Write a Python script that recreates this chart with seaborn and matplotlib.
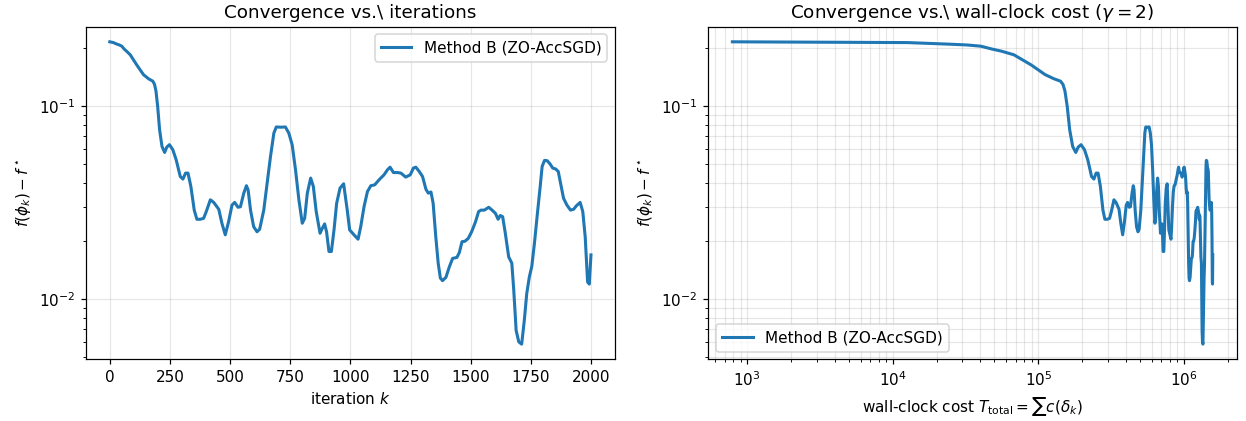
import numpy as np
import pandas as pd
import matplotlib
matplotlib.use("Agg")
import matplotlib.pyplot as plt
import seaborn as sns

# Optimality gap of ZO-AccSGD, sampled along the run
iterations = [
    0, 15, 30, 40, 50, 60, 70, 85, 112, 140, 161, 179, 186, 192, 199, 207,
    217, 228, 237, 248, 262, 276, 293, 304, 315, 325, 337, 351, 362, 376,
    390, 401, 418, 432, 453, 466, 480, 494, 508, 519, 533, 543, 557, 568,
    575, 585, 598, 612, 623, 640, 654, 668, 682, 692, 710, 730, 744, 758,
    772, 786, 800, 810, 821, 835, 846, 858, 874, 883, 893, 901, 911, 921,
    932, 943, 957, 972, 987, 997, 1015, 1032, 1043, 1057, 1071, 1085, 1101,
    1119, 1140, 1154, 1165, 1179, 1196, 1210, 1230, 1249, 1262, 1272, 1286,
    1300, 1314, 1324, 1335, 1344, 1355, 1365, 1374, 1383, 1397, 1411, 1425,
    1443, 1453, 1464, 1476, 1490, 1504, 1520, 1533, 1543, 1557, 1575, 1589,
    1603, 1614, 1623, 1633, 1644, 1658, 1671, 1679, 1689, 1700, 1712, 1723,
    1733, 1744, 1754, 1765, 1776, 1789, 1797, 1807, 1818, 1830, 1841, 1853,
    1864, 1876, 1886, 1900, 1915, 1928, 1939, 1955, 1966, 1976, 1986, 1993,
    2000,
]
gap = [
    0.216, 0.214, 0.210, 0.208, 0.205, 0.198, 0.193, 0.185, 0.164, 0.146,
    0.139, 0.135, 0.130, 0.120, 0.100, 0.0757, 0.062, 0.0577, 0.0615, 0.0633,
    0.0596, 0.0528, 0.0433, 0.042, 0.0451, 0.0451, 0.0385, 0.029, 0.026,
    0.026, 0.0263, 0.0285, 0.0328, 0.0318, 0.0293, 0.0248, 0.0216, 0.0253,
    0.0308, 0.0318, 0.030, 0.0302, 0.0355, 0.0388, 0.0369, 0.029, 0.0238,
    0.0224, 0.0231, 0.029, 0.040, 0.055, 0.0727, 0.0782, 0.078, 0.0782,
    0.0727, 0.0633, 0.0469, 0.0328, 0.0248, 0.0263, 0.0355, 0.0425, 0.0385,
    0.0285, 0.022, 0.0233, 0.0246, 0.0224, 0.0177, 0.0177, 0.0229, 0.0315,
    0.0377, 0.0397, 0.029, 0.0229, 0.0216, 0.0205, 0.0238, 0.0303, 0.0362,
    0.0388, 0.0392, 0.0416, 0.0442, 0.0469, 0.0484, 0.0454, 0.0454, 0.0451,
    0.043, 0.0442, 0.0479, 0.0484, 0.046, 0.0433, 0.0372, 0.0355, 0.036,
    0.0315, 0.0211, 0.0154, 0.0129, 0.0125, 0.013, 0.0147, 0.0163, 0.0165,
    0.0175, 0.0199, 0.0200, 0.0207, 0.0224, 0.0252, 0.0285, 0.029, 0.029,
    0.030, 0.029, 0.0279, 0.026, 0.0272, 0.0268, 0.022, 0.0166, 0.0154,
    0.0112, 0.0069, 0.00602, 0.00586, 0.0078, 0.0107, 0.0131, 0.0148, 0.0195,
    0.0268, 0.0385, 0.0488, 0.0525, 0.0523, 0.0503, 0.0479, 0.0474, 0.046,
    0.0385, 0.0334, 0.0308, 0.029, 0.0293, 0.0305, 0.0318, 0.0285, 0.0211,
    0.0123, 0.0120, 0.0170,
]

# Every step uses the same smoothing radius, so each costs the same c(delta)
cost_per_iter = 790.0

method_label = "Method B (ZO-AccSGD)"

it = np.asarray(iterations, dtype=float)
df = pd.DataFrame({
    "k": it,
    "gap": gap,
    "cost": cost_per_iter * (it + 1.0),
})

dpi = 110
fig = plt.figure(figsize=(1246 / dpi, 421 / dpi), dpi=dpi)
ax1 = fig.add_axes([0.0688, 0.1466, 0.4248, 0.790])
ax2 = fig.add_axes([0.5685, 0.1466, 0.4241, 0.790])

color = "#1f77b4"

# Left: gap against iteration count
sns.lineplot(data=df, x="k", y="gap", ax=ax1, color=color, lw=2,
             label=method_label, sort=False, estimator=None)
ax1.set_yscale("log")
ax1.set_title(r"Convergence vs.\ iterations")
ax1.set_xlabel(r"iteration $k$")
ax1.set_ylabel(r"$f(\phi_k) - f^\star$")
ax1.grid(True, alpha=0.3)
ax1.legend(loc="upper right")

# Right: gap against accumulated wall-clock cost
sns.lineplot(data=df, x="cost", y="gap", ax=ax2, color=color, lw=2,
             label=method_label, sort=False, estimator=None)
ax2.set_xscale("log")
ax2.set_yscale("log")
ax2.set_title(r"Convergence vs.\ wall-clock cost ($\gamma=2$)")
ax2.set_xlabel(r"wall-clock cost $T_{\mathrm{total}} = \sum c(\delta_k)$")
ax2.set_ylabel(r"$f(\phi_k) - f^\star$")
ax2.grid(True, which="both", alpha=0.3)
ax2.legend(loc="lower left")

fig.savefig("out.png", dpi=dpi)
